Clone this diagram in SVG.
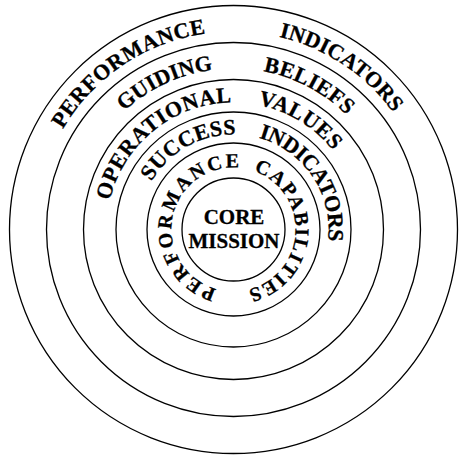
<svg xmlns="http://www.w3.org/2000/svg" xmlns:xlink="http://www.w3.org/1999/xlink" width="460" height="457" viewBox="0 0 460 457">
<style>
.ring{fill:none;stroke:#000;stroke-width:1.3}
.lbl{font-family:"Liberation Serif","Times New Roman",serif;font-weight:bold;font-size:22px;fill:#000;stroke:#000;stroke-width:0.3}
.lbl5{font-size:20px}
.core{font-family:"Liberation Serif","Times New Roman",serif;font-weight:bold;font-size:21px;fill:#000;stroke:#000;stroke-width:0.3;text-anchor:middle}
</style>
<defs>
<path id="c1" d="M233.5,427.5 A198,198 0 1 1 233.5,31.5 A198,198 0 1 1 233.5,427.5"/>
<path id="c2" d="M233.5,390.5 A161,161 0 1 1 233.5,68.5 A161,161 0 1 1 233.5,390.5"/>
<path id="c3" d="M233.5,356.5 A127,127 0 1 1 233.5,102.5 A127,127 0 1 1 233.5,356.5"/>
<path id="c4" d="M233.5,324.5 A95,95 0 1 1 233.5,134.5 A95,95 0 1 1 233.5,324.5"/>
<path id="c5" d="M233.5,291.5 A62,62 0 1 1 233.5,167.5 A62,62 0 1 1 233.5,291.5"/>
</defs>
<g id="ring-performance-indicators">
<circle class="ring" cx="233.5" cy="229.5" r="224"/>
<text class="lbl"><textPath xlink:href="#c1" href="#c1" startOffset="416" textLength="178" lengthAdjust="spacing">PERFORMANCE</textPath></text>
<text class="lbl"><textPath xlink:href="#c1" href="#c1" startOffset="667.7" textLength="140" lengthAdjust="spacing">INDICATORS</textPath></text>
</g>
<g id="ring-guiding-beliefs">
<circle class="ring" cx="233.5" cy="229.5" r="187"/>
<text class="lbl"><textPath xlink:href="#c2" href="#c2" startOffset="385.5" textLength="99.5" lengthAdjust="spacing">GUIDING</textPath></text>
<text class="lbl"><textPath xlink:href="#c2" href="#c2" startOffset="535.6" textLength="95.5" lengthAdjust="spacing">BELIEFS</textPath></text>
</g>
<g id="ring-operational-values">
<circle class="ring" cx="233.5" cy="229.5" r="150"/>
<text class="lbl"><textPath xlink:href="#c3" href="#c3" startOffset="228.3" textLength="168.5" lengthAdjust="spacing">OPERATIONAL</textPath></text>
<text class="lbl"><textPath xlink:href="#c3" href="#c3" startOffset="423.5" textLength="89.5" lengthAdjust="spacing">VALUES</textPath></text>
</g>
<g id="ring-success-indicators">
<circle class="ring" cx="233.5" cy="229.5" r="117.5"/>
<text class="lbl"><textPath xlink:href="#c4" href="#c4" startOffset="199" textLength="101.1" lengthAdjust="spacing">SUCCESS</textPath></text>
<text class="lbl"><textPath xlink:href="#c4" href="#c4" startOffset="323.5" textLength="135" lengthAdjust="spacing">INDICATORS</textPath></text>
</g>
<g id="ring-performance-capabilities">
<circle class="ring" cx="233.5" cy="229.5" r="86.5"/>
<text class="lbl lbl5"><textPath xlink:href="#c5" href="#c5" startOffset="17" textLength="183" lengthAdjust="spacing">PERFORMANCE</textPath></text>
<text class="lbl lbl5"><textPath xlink:href="#c5" href="#c5" startOffset="215" textLength="159" lengthAdjust="spacing">CAPABILITIES</textPath></text>
</g>
<g id="core-mission">
<circle class="ring" cx="233.5" cy="229.5" r="51.5"/>
<text class="core" x="234" y="224">CORE</text>
<text class="core" x="234" y="248">MISSION</text>
</g>
</svg>
